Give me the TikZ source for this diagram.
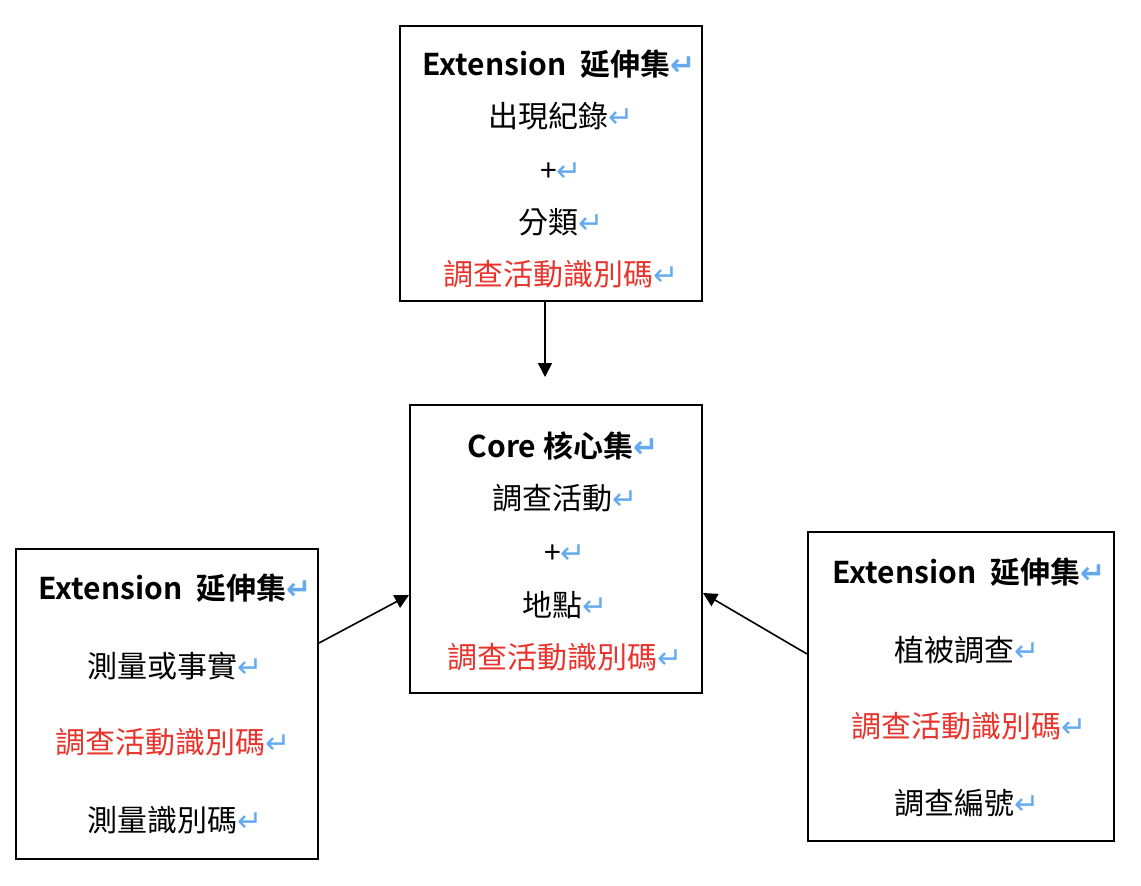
\documentclass[tikz,border=0pt]{standalone}
\usepackage{fontspec}
\setmainfont{Noto Sans CJK TC}[BoldFont={Noto Sans CJK TC Bold}]
\newfontfamily\retfont{DejaVu Sans}
\usetikzlibrary{arrows.meta}
\definecolor{idred}{RGB}{232,52,44}
\definecolor{retblue}{RGB}{100,170,240}
\newcommand{\ret}{{\retfont\fontsize{15}{16}\selectfont\color{retblue}↵}}

\begin{document}
\begin{tikzpicture}[
			x=0.5pt, y=-0.5pt,
			font=\fontsize{15}{18}\selectfont,
			box/.style={draw, line width=1pt, inner sep=0pt},
			txt/.style={inner sep=0pt, text height=12pt, text depth=0.6pt},
			head/.style={txt, font=\fontsize{15}{18}\selectfont\bfseries},
			idtxt/.style={txt, text=idred},
			arr/.style={-{Triangle[length=7pt,width=7pt]}, line width=0.8pt}
			]
			\useasboundingbox (0,0) rectangle (1141,885);
			
			% extension: occurrence + taxon
			\node[box, minimum width=151pt, minimum height=137.5pt] (topbox) at (551,163.5) {};
			\node[head] (top1) at (559,64) {Extension\ \ 延伸集\ret};
			\node[txt] (top2) at (561,116) {出現紀錄\ret};
			\node[txt] (top3) at (561,170) {+\ret};
			\node[txt] (top4) at (561,222) {分類\ret};
			\node[idtxt] (top5) at (561,274) {調查活動識別碼\ret};
			
			% core: event + location
			\node[box, minimum width=146pt, minimum height=144pt] (corebox) at (556,549) {};
			\node[head] (core1) at (563,446) {Core 核心集\ret};
			\node[txt] (core2) at (565,498) {調查活動\ret};
			\node[txt] (core3) at (565,552) {+\ret};
			\node[txt] (core4) at (565,605) {地點\ret};
			\node[idtxt] (core5) at (565,657) {調查活動識別碼\ret};
			
			% extension: measurement or fact
			\node[box, minimum width=151pt, minimum height=155pt] (leftbox) at (167,704) {};
			\node[head] (left1) at (175,588) {Extension\ \ 延伸集\ret};
			\node[txt] (left2) at (175,666) {測量或事實\ret};
			\node[idtxt] (left3) at (173,742) {調查活動識別碼\ret};
			\node[txt] (left4) at (175,820) {測量識別碼\ret};
			
			% extension: vegetation survey
			\node[box, minimum width=153pt, minimum height=154.5pt] (rightbox) at (961,686.5) {};
			\node[head] (right1) at (969,572) {Extension\ \ 延伸集\ret};
			\node[txt] (right2) at (967,650) {植被調查\ret};
			\node[idtxt] (right3) at (969,726) {調查活動識別碼\ret};
			\node[txt] (right4) at (967,803) {調查編號\ret};
			
			\coordinate (tipA) at (545,377);
			\draw[arr] (topbox.south -| tipA) -- (tipA);
			\draw[arr] ([yshift=30.5pt]leftbox.east) -- ([yshift=-23pt]corebox.west);
			\draw[arr] ([yshift=16.25pt]rightbox.west) -- ([yshift=-22pt]corebox.east);
			
		\end{tikzpicture}
\end{document}
